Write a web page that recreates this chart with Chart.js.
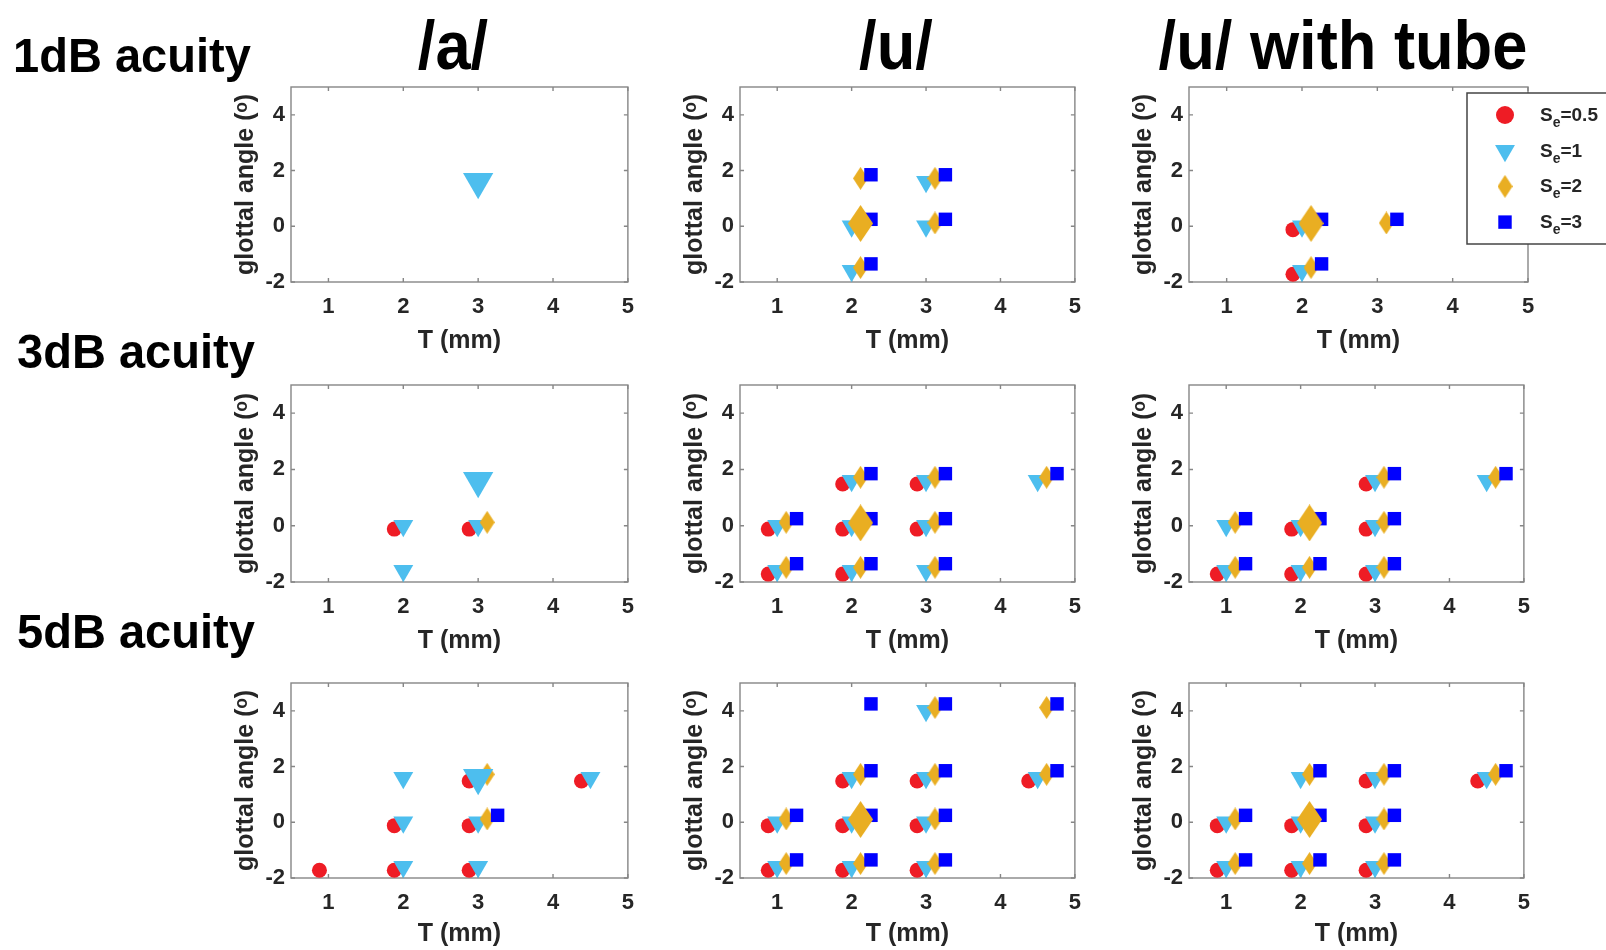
<!DOCTYPE html>
<html>
<head>
<meta charset="utf-8">
<script src="https://cdn.jsdelivr.net/npm/chart.js@4.4.1/dist/chart.umd.min.js"></script>
<style>
  body { margin: 0; background: #fff; width: 1606px; height: 950px; position: relative; overflow: hidden;
         font-family: "Liberation Sans", Arial, sans-serif; font-weight: bold; color: #000; }
  canvas { position: absolute; }
  .head { position: absolute; top: 11px; width: 600px; text-align: center; font-size: 68px; line-height: 68px;
          transform: scaleX(0.93); white-space: nowrap; }
  .rowlab { position: absolute; font-size: 49px; line-height: 49px; transform: scaleX(0.96);
            transform-origin: 0 0; white-space: nowrap; }
</style>
</head>
<body>
<div id="plots"></div>
<div class="head" style="left:153px">/a/</div>
<div class="head" style="left:596px">/u/</div>
<div class="head" style="left:1043px">/u/ with tube</div>
<div class="rowlab" style="left:13px;top:31px">1dB acuity</div>
<div class="rowlab" style="left:17px;top:327px">3dB acuity</div>
<div class="rowlab" style="left:17px;top:607px">5dB acuity</div>
<script>
// tick labels
const xTicks = [1, 2, 3, 4, 5];
const yTicks = [-2, 0, 2, 4];
const seLabels = ['0.5', '1', '2', '3'];

// points, [T (mm), glottal angle]
// 1dB acuity
const a1_r = [];
const a1_c = [];
const a1_o = [];
const a1_b = [];
const a1_big = [[3.0, 1.6]];

const u1_r = [];
const u1_c = [[3, 1.6], [2, 0], [3, 0], [2, -1.6]];
const u1_o = [[2.12, 1.72], [3.12, 1.72], [2.12, 0.12], [3.12, 0.12], [2.12, -1.48]];
const u1_b = [[2.26, 1.85], [3.26, 1.85], [2.26, 0.25], [3.26, 0.25], [2.26, -1.35]];
const u1_big = [[2.12, 0.1]];

const ut1_r = [[1.88, -0.12], [1.88, -1.72]];
const ut1_c = [[2, 0], [2, -1.6]];
const ut1_o = [[2.12, 0.12], [3.12, 0.12], [2.12, -1.48]];
const ut1_b = [[2.26, 0.25], [3.26, 0.25], [2.26, -1.35]];
const ut1_big = [[2.12, 0.1]];

// 3dB acuity
const a3_r = [[1.88, -0.12], [2.88, -0.12]];
const a3_c = [[2, 0], [2, -1.6], [3, 0]];
const a3_o = [[3.12, 0.12]];
const a3_b = [];
const a3_big = [[3.0, 1.6]];

const u3_r = [[0.88, -0.12], [0.88, -1.72], [1.88, 1.48], [1.88, -0.12], [1.88, -1.72], [2.88, 1.48], [2.88, -0.12]];
const u3_c = [[1, 0], [1, -1.6], [2, 1.6], [2, 0], [2, -1.6], [3, 1.6], [3, 0], [3, -1.6], [4.5, 1.6]];
const u3_o = [[1.12, 0.12], [1.12, -1.48], [2.12, 1.72], [2.12, 0.12], [2.12, -1.48], [3.12, 1.72], [3.12, 0.12], [3.12, -1.48], [4.62, 1.72]];
const u3_b = [[1.26, 0.25], [1.26, -1.35], [2.26, 1.85], [2.26, 0.25], [2.26, -1.35], [3.26, 1.85], [3.26, 0.25], [3.26, -1.35], [4.76, 1.85]];
const u3_big = [[2.12, 0.1]];

const ut3_r = [[0.88, -1.72], [1.88, -0.12], [1.88, -1.72], [2.88, 1.48], [2.88, -0.12], [2.88, -1.72]];
const ut3_c = [[1, 0], [1, -1.6], [2, 0], [2, -1.6], [3, 1.6], [3, 0], [3, -1.6], [4.5, 1.6]];
const ut3_o = [[1.12, 0.12], [1.12, -1.48], [2.12, 0.12], [2.12, -1.48], [3.12, 1.72], [3.12, 0.12], [3.12, -1.48], [4.62, 1.72]];
const ut3_b = [[1.26, 0.25], [1.26, -1.35], [2.26, 0.25], [2.26, -1.35], [3.26, 1.85], [3.26, 0.25], [3.26, -1.35], [4.76, 1.85]];
const ut3_big = [[2.12, 0.1]];

// 5dB acuity
const a5_r = [[0.88, -1.72], [1.88, -0.12], [1.88, -1.72], [2.88, 1.48], [2.88, -0.12], [2.88, -1.72], [4.38, 1.48]];
const a5_c = [[2, 1.6], [2, 0], [2, -1.6], [3, 0], [3, -1.6], [4.5, 1.6]];
const a5_o = [[3.12, 1.72], [3.12, 0.12]];
const a5_b = [[3.26, 0.25]];
const a5_big = [[3.0, 1.6]];

const u5_r = [[0.88, -0.12], [0.88, -1.72], [1.88, 1.48], [1.88, -0.12], [1.88, -1.72], [2.88, 1.48], [2.88, -0.12], [2.88, -1.72], [4.38, 1.48]];
const u5_c = [[1, 0], [1, -1.6], [2, 1.6], [2, 0], [2, -1.6], [3, 4.0], [3, 1.6], [3, 0], [3, -1.6], [4.5, 1.6]];
const u5_o = [[1.12, 0.12], [1.12, -1.48], [2.12, 1.72], [2.12, 0.12], [2.12, -1.48], [3.12, 4.12], [3.12, 1.72], [3.12, 0.12], [3.12, -1.48], [4.62, 4.12], [4.62, 1.72]];
const u5_b = [[1.26, 0.25], [1.26, -1.35], [2.26, 4.25], [2.26, 1.85], [2.26, 0.25], [2.26, -1.35], [3.26, 4.25], [3.26, 1.85], [3.26, 0.25], [3.26, -1.35], [4.76, 4.25], [4.76, 1.85]];
const u5_big = [[2.12, 0.1]];

const ut5_r = [[0.88, -0.12], [0.88, -1.72], [1.88, -0.12], [1.88, -1.72], [2.88, 1.48], [2.88, -0.12], [2.88, -1.72], [4.38, 1.48]];
const ut5_c = [[1, 0], [1, -1.6], [2, 1.6], [2, 0], [2, -1.6], [3, 1.6], [3, 0], [3, -1.6], [4.5, 1.6]];
const ut5_o = [[1.12, 0.12], [1.12, -1.48], [2.12, 1.72], [2.12, 0.12], [2.12, -1.48], [3.12, 1.72], [3.12, 0.12], [3.12, -1.48], [4.62, 1.72]];
const ut5_b = [[1.26, 0.25], [1.26, -1.35], [2.26, 1.85], [2.26, 0.25], [2.26, -1.35], [3.26, 1.85], [3.26, 0.25], [3.26, -1.35], [4.76, 1.85]];
const ut5_big = [[2.12, 0.1]];

const RED = '#ee1c25', CYAN = '#4dbeee', ORANGE = '#e9ae22', BLUE = '#0000ff';
const INK = '#262626';

Chart.defaults.font.family = '"Liberation Sans", Arial, sans-serif';
Chart.defaults.font.weight = 'bold';
Chart.defaults.color = INK;

// matlab-ish diamond, taller than wide
function diamond(w, h, color) {
    const c = document.createElement('canvas');
    c.width = w; c.height = h;
    const g = c.getContext('2d');
    g.fillStyle = color;
    g.beginPath();
    g.moveTo(w / 2, 0); g.lineTo(w, h / 2); g.lineTo(w / 2, h); g.lineTo(0, h / 2);
    g.closePath(); g.fill();
    return c;
}
const smallDiamond = diamond(15, 23, ORANGE);
const bigDiamond = diamond(25, 37, ORANGE);

const pts = arr => arr.map(([x, y]) => ({ x, y }));

// box + inward ticks
const frame = {
    id: 'frame',
    beforeDatasetsDraw(chart) {
        const { ctx, chartArea: a, scales: { x, y } } = chart;
        ctx.save();
        ctx.strokeStyle = '#868686';
        ctx.lineWidth = 1.4;
        ctx.strokeRect(a.left, a.top, a.right - a.left, a.bottom - a.top);
        const len = 4;
        ctx.beginPath();
        x.ticks.forEach(t => {
            const px = x.getPixelForValue(t.value);
            ctx.moveTo(px, a.bottom); ctx.lineTo(px, a.bottom - len);
            ctx.moveTo(px, a.top); ctx.lineTo(px, a.top + len);
        });
        y.ticks.forEach(t => {
            const py = y.getPixelForValue(t.value);
            ctx.moveTo(a.left, py); ctx.lineTo(a.left + len, py);
            ctx.moveTo(a.right, py); ctx.lineTo(a.right - len, py);
        });
        ctx.stroke();
        ctx.restore();
    }
};

// legend box sitting over the top right panel
const seLegend = {
    id: 'seLegend',
    afterDraw(chart) {
        const ctx = chart.ctx;
        const left = chart.chartArea.right - 61, top = chart.chartArea.top + 6;
        ctx.save();
        ctx.fillStyle = '#fff';
        ctx.fillRect(left, top, 200, 151);
        ctx.strokeStyle = '#444';
        ctx.lineWidth = 1.5;
        ctx.strokeRect(left, top, 200, 151);
        chart.data.datasets.slice(0, 4).forEach((ds, i) => {
            const cy = top + 22 + i * 35.7;
            const cx = left + 38;
            ctx.fillStyle = ds.pointBackgroundColor;
            Chart.helpers.drawPoint(ctx, {
                pointStyle: ds.pointStyle, rotation: ds.pointRotation || 0,
                radius: i === 0 ? 9 : ds.pointRadius, borderWidth: 0
            }, cx, cy);
            ctx.fillStyle = INK;
            ctx.textBaseline = 'alphabetic';
            ctx.font = 'bold 19px "Liberation Sans", Arial, sans-serif';
            let tx = left + 73;
            ctx.fillText('S', tx, cy + 6);
            tx += ctx.measureText('S').width;
            ctx.font = 'bold 14px "Liberation Sans", Arial, sans-serif';
            ctx.fillText('e', tx, cy + 12);
            tx += ctx.measureText('e').width;
            ctx.font = 'bold 19px "Liberation Sans", Arial, sans-serif';
            ctx.fillText('=' + seLabels[i], tx, cy + 6);
        });
        ctx.restore();
    }
};

const colL = [291, 740, 1189];
const plotW = [341, 339, 339];
const rowT = [87, 385, 683];
const plotH = [195, 197, 195];
const xAxisH = [74, 74, 71];
const Y_AXIS_W = 60, PAD_T = 20;

const panels = [
    [a1_r, a1_c, a1_o, a1_b, a1_big], [u1_r, u1_c, u1_o, u1_b, u1_big], [ut1_r, ut1_c, ut1_o, ut1_b, ut1_big],
    [a3_r, a3_c, a3_o, a3_b, a3_big], [u3_r, u3_c, u3_o, u3_b, u3_big], [ut3_r, ut3_c, ut3_o, ut3_b, ut3_big],
    [a5_r, a5_c, a5_o, a5_b, a5_big], [u5_r, u5_c, u5_o, u5_b, u5_big], [ut5_r, ut5_c, ut5_o, ut5_b, ut5_big]
];

panels.forEach((p, k) => {
    const row = Math.floor(k / 3), col = k % 3;
    const withLegend = k === 2;
    const padR = withLegend ? 1606 - (colL[col] + plotW[col]) : 14;
    const canvas = document.createElement('canvas');
    canvas.width = Y_AXIS_W + plotW[col] + padR;
    canvas.height = PAD_T + plotH[row] + xAxisH[row];
    canvas.style.left = (colL[col] - Y_AXIS_W) + 'px';
    canvas.style.top = (rowT[row] - PAD_T) + 'px';
    document.getElementById('plots').appendChild(canvas);

    const bigTri = col === 0;
    const common = { pointBorderWidth: 0, clip: false };

    new Chart(canvas.getContext('2d'), {
        type: 'scatter',
        data: {
            datasets: [{
                ...common, label: 'Se=0.5', data: pts(p[0]), order: 5,
                pointStyle: 'circle', pointRadius: 7.5, pointBackgroundColor: RED
            }, {
                ...common, label: 'Se=1', data: pts(p[1]), order: 4,
                pointStyle: 'triangle', pointRotation: 180, pointRadius: 11.5, pointBackgroundColor: CYAN
            }, {
                ...common, label: 'Se=2', data: pts(p[2]), order: 3,
                pointStyle: smallDiamond, pointRadius: 10, pointBackgroundColor: ORANGE
            }, {
                ...common, label: 'Se=3', data: pts(p[3]), order: 2,
                pointStyle: 'rect', pointRadius: 9.5, pointBackgroundColor: BLUE
            }, {
                ...common, label: 'best', data: pts(p[4]), order: 1,
                pointStyle: bigTri ? 'triangle' : bigDiamond, pointRotation: bigTri ? 180 : 0,
                pointRadius: bigTri ? 17.5 : 12, pointBackgroundColor: bigTri ? CYAN : ORANGE
            }]
        },
        options: {
            responsive: false,
            animation: false,
            events: [],
            layout: { padding: { left: 0, top: PAD_T, right: padR, bottom: 0 } },
            plugins: { legend: { display: false }, tooltip: { enabled: false } },
            scales: {
                x: {
                    type: 'linear', min: 0.5, max: 5,
                    afterBuildTicks: s => { s.ticks = xTicks.map(v => ({ value: v })); },
                    afterFit: s => { s.height = xAxisH[row]; },
                    grid: { display: false, drawTicks: false },
                    border: { display: false },
                    ticks: { autoSkip: false, maxRotation: 0, padding: 12, font: { size: 22, weight: 'bold' }, color: INK,
                             callback: v => String(v) },
                    title: { display: true, text: 'T (mm)', font: { size: 25, weight: 'bold' }, color: INK,
                             padding: { top: 0, bottom: 0 } }
                },
                y: {
                    type: 'linear', min: -2, max: 5,
                    afterBuildTicks: s => { s.ticks = yTicks.map(v => ({ value: v })); },
                    afterFit: s => { s.width = Y_AXIS_W; },
                    grid: { display: false, drawTicks: false },
                    border: { display: false },
                    ticks: { padding: 6, font: { size: 22, weight: 'bold' }, color: INK,
                             callback: v => String(v) },
                    title: { display: true, text: 'glottal angle (ᵒ)', font: { size: 25, weight: 'bold' }, color: INK,
                             padding: { top: 0, bottom: 0 } }
                }
            }
        },
        plugins: withLegend ? [frame, seLegend] : [frame]
    });
});
</script>
</body>
</html>
